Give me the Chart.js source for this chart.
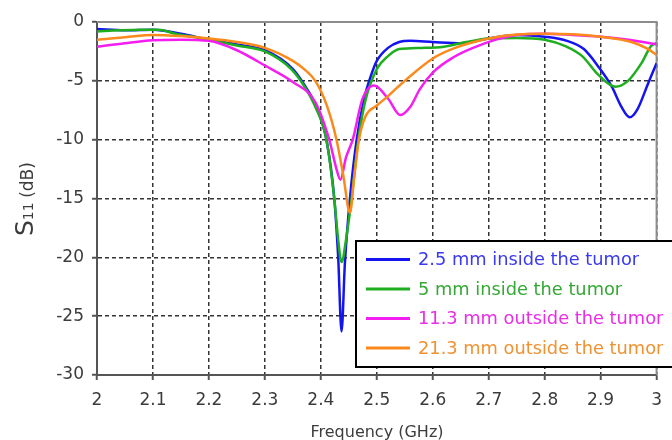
<!DOCTYPE html>
<html>
<head>
<meta charset="utf-8">
<script src="https://cdn.jsdelivr.net/npm/chart.js@4.4.0/dist/chart.umd.min.js"></script>
<style>
  html, body { margin: 0; padding: 0; background: #fff; }
  #wrap { width: 672px; height: 440px; }
</style>
</head>
<body>
<div id="wrap"><canvas id="chart" width="672" height="440"></canvas></div>
<script>
// S11 vs frequency (GHz, dB)
const blueFreq = [2.00, 2.05, 2.10, 2.15, 2.20, 2.25, 2.30, 2.35, 2.37, 2.39, 2.41, 2.424, 2.431, 2.437, 2.443, 2.452, 2.464, 2.477, 2.49, 2.50, 2.52, 2.54, 2.56, 2.60, 2.65, 2.70, 2.75, 2.80, 2.84, 2.87, 2.896, 2.92, 2.937, 2.952, 2.966, 2.985, 3.00];
const blueS11  = [-0.6, -0.7, -0.65, -1.0, -1.5, -1.9, -2.4, -4.0, -5.3, -7.0, -10, -15, -20, -26.3, -20.5, -15, -10, -6.6, -4.5, -3.3, -2.2, -1.7, -1.6, -1.7, -1.8, -1.4, -1.1, -1.25, -1.6, -2.3, -3.8, -5.5, -7.2, -8.1, -7.4, -5.2, -3.5];

const greenFreq = [2.00, 2.04, 2.08, 2.11, 2.14, 2.20, 2.25, 2.30, 2.347, 2.371, 2.39, 2.41, 2.424, 2.431, 2.437, 2.445, 2.455, 2.467, 2.48, 2.50, 2.52, 2.54, 2.58, 2.62, 2.66, 2.70, 2.75, 2.80, 2.837, 2.867, 2.896, 2.926, 2.949, 2.973, 2.99, 3.00];
const greenS11  = [-0.8, -0.7, -0.65, -0.65, -1.0, -1.5, -2.0, -2.5, -4.0, -5.5, -7.2, -10, -15, -18.5, -20.4, -18.5, -15, -10, -6.6, -4.0, -2.9, -2.3, -2.2, -2.1, -1.7, -1.4, -1.35, -1.5, -2.05, -2.9, -4.5, -5.5, -5.0, -3.5, -2.05, -1.8];

const magentaFreq = [2.00, 2.05, 2.10, 2.15, 2.20, 2.25, 2.30, 2.35, 2.39, 2.415, 2.428, 2.435, 2.445, 2.457, 2.474, 2.495, 2.52, 2.542, 2.56, 2.577, 2.60, 2.637, 2.672, 2.713, 2.75, 2.80, 2.85, 2.90, 2.95, 3.00];
const magentaS11  = [-2.1, -1.8, -1.55, -1.5, -1.6, -2.4, -3.7, -5.1, -6.8, -10, -12.5, -13.4, -11.5, -10, -6.6, -5.4, -6.5, -7.9, -7.2, -5.7, -4.3, -3.0, -2.2, -1.5, -1.1, -1.0, -1.1, -1.25, -1.5, -1.9];

const orangeFreq = [2.00, 2.05, 2.10, 2.15, 2.20, 2.25, 2.30, 2.35, 2.37, 2.39, 2.41, 2.428, 2.44, 2.452, 2.46, 2.468, 2.48, 2.50, 2.52, 2.536, 2.55, 2.60, 2.64, 2.70, 2.75, 2.80, 2.85, 2.90, 2.955, 2.985, 3.00];
const orangeS11  = [-1.5, -1.3, -1.1, -1.2, -1.4, -1.7, -2.2, -3.3, -4.0, -5.0, -7.0, -10, -13, -16.2, -13, -10, -8.0, -7.1, -6.3, -5.6, -5.0, -3.1, -2.2, -1.4, -1.06, -1.0, -1.05, -1.26, -1.7, -2.3, -2.8];

const seriesNames = ['2.5 mm inside the tumor', '5 mm inside the tumor', '11.3 mm outside the tumor', '21.3 mm outside the tumor'];
const lineColors = ['#1414f0', '#1fae1f', '#f51ef0', '#fb8a1c'];
const textColors = ['#3a3aee', '#35a835', '#e82ee6', '#f09232'];

function toPoints(xs, ys) {
  return xs.map((x, i) => ({ x: x, y: ys[i] }));
}

const font = "'DejaVu Sans', Verdana, sans-serif";

// frame on top and right of the plot area
const framePlugin = {
  id: 'frame',
  beforeDatasetsDraw(chart) {
    const { ctx, chartArea: a } = chart;
    ctx.save();
    ctx.strokeStyle = '#8c8c8c';
    ctx.lineWidth = 2;
    ctx.beginPath();
    ctx.moveTo(a.left, a.top);
    ctx.lineTo(a.right, a.top);
    ctx.lineTo(a.right, a.bottom);
    ctx.stroke();
    ctx.restore();
  }
};

// boxed legend inside the plot, text in series colour
const boxLegend = {
  id: 'boxLegend',
  afterDraw(chart) {
    const { ctx, chartArea: a } = chart;
    const left = a.left + 259, top = a.top + 219, height = 126;
    ctx.save();
    ctx.fillStyle = '#fff';
    ctx.fillRect(left, top, 400, height);
    ctx.strokeStyle = '#000';
    ctx.lineWidth = 2;
    ctx.strokeRect(left, top, 400, height);
    ctx.font = '17.8px ' + font;
    ctx.textBaseline = 'middle';
    chart.data.datasets.forEach((ds, i) => {
      const y = top + 18.5 + i * 29.5;
      ctx.strokeStyle = ds.borderColor;
      ctx.lineWidth = 3;
      ctx.beginPath();
      ctx.moveTo(left + 10, y);
      ctx.lineTo(left + 54, y);
      ctx.stroke();
      ctx.fillStyle = textColors[i];
      ctx.fillText(ds.label, left + 62, y + 1);
    });
    ctx.restore();
  }
};

// axis titles (S11 with subscript)
const axisTitles = {
  id: 'axisTitles',
  afterDraw(chart) {
    const { ctx } = chart;
    ctx.save();
    ctx.fillStyle = '#3c3c3c';
    ctx.textBaseline = 'alphabetic';
    ctx.font = '16px ' + font;
    ctx.textAlign = 'center';
    ctx.fillText('Frequency (GHz)', 377, 437);

    ctx.translate(33, 236);
    ctx.rotate(-Math.PI / 2);
    ctx.textAlign = 'left';
    ctx.font = '25px ' + font;
    ctx.fillText('S', 0, 0);
    let x = ctx.measureText('S').width;
    ctx.font = '14px ' + font;
    ctx.fillText('11', x, 0);
    x += ctx.measureText('11 ').width;
    ctx.font = '17px ' + font;
    ctx.fillText('(dB)', x, 0);
    ctx.restore();
  }
};

const gridStyle = {
  color: 'rgba(0,0,0,0.8)',
  lineWidth: 1.5,
  tickLength: 5,
  tickColor: '#555',
  tickWidth: 2,
  tickBorderDash: []
};

new Chart(document.getElementById('chart').getContext('2d'), {
  type: 'line',
  data: {
    datasets: [
      { label: seriesNames[0], data: toPoints(blueFreq, blueS11), borderColor: lineColors[0], order: 3 },
      { label: seriesNames[1], data: toPoints(greenFreq, greenS11), borderColor: lineColors[1], order: 2 },
      { label: seriesNames[2], data: toPoints(magentaFreq, magentaS11), borderColor: lineColors[2], order: 1 },
      { label: seriesNames[3], data: toPoints(orangeFreq, orangeS11), borderColor: lineColors[3], order: 0 }
    ].map(d => Object.assign(d, {
      borderWidth: 2.5,
      pointRadius: 0,
      fill: false,
      cubicInterpolationMode: 'monotone'
    }))
  },
  options: {
    responsive: false,
    animation: false,
    devicePixelRatio: 1,
    layout: { padding: { left: 0, top: 22, right: 10, bottom: 0 } },
    plugins: { legend: { display: false }, tooltip: { enabled: false } },
    scales: {
      x: {
        type: 'linear',
        min: 2, max: 3,
        afterFit(scale) { scale.height = 65; },
        ticks: {
          stepSize: 0.1,
          padding: 10,
          color: '#3c3c3c',
          font: { family: font, size: 17 },
          callback: v => String(Number(v.toFixed(1)))
        },
        grid: gridStyle,
        border: { display: true, color: '#555', width: 2, dash: [4, 3] }
      },
      y: {
        min: -30, max: 0,
        afterFit(scale) { scale.width = 97; },
        ticks: {
          stepSize: 5,
          padding: 8,
          color: '#3c3c3c',
          font: { family: font, size: 17 },
          callback: v => String(v)
        },
        grid: gridStyle,
        border: { display: true, color: '#555', width: 2, dash: [4, 3] }
      }
    }
  },
  plugins: [framePlugin, boxLegend, axisTitles]
});
</script>
</body>
</html>
